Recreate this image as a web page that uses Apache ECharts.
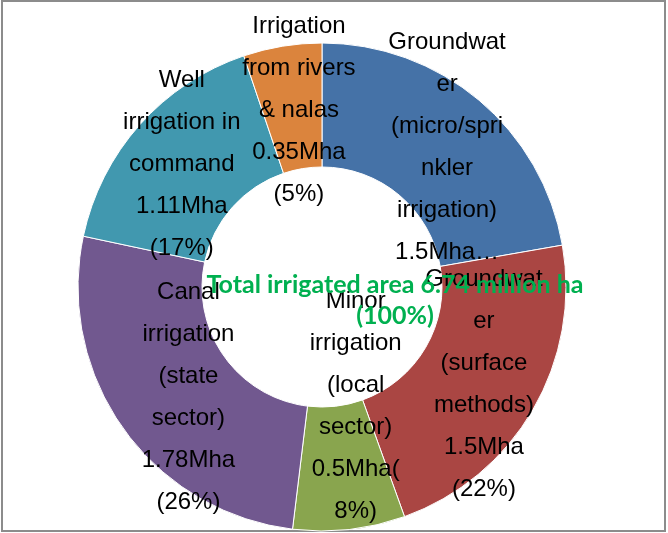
<!DOCTYPE html>
<html>
<head>
<meta charset="utf-8">
<script src="https://cdn.jsdelivr.net/npm/echarts@6/dist/echarts.min.js"></script>
<style>
html,body{margin:0;padding:0;background:#fff;}
#chart{width:668px;height:533px;}
</style>
</head>
<body>
<div id="chart"></div>
<script>
const categories = [
  'Groundwater (micro/sprinkler irrigation)',
  'Groundwater (surface methods)',
  'Minor irrigation (local sector)',
  'Canal irrigation (state sector)',
  'Well irrigation in command',
  'Irrigation from rivers & nalas'
];
const values = [1.5, 1.5, 0.5, 1.78, 1.11, 0.35];
const colors = ['#4572A7', '#AA4643', '#89A54E', '#71588F', '#4198AF', '#DB843D'];
const labelTexts = [
  'Groundwat\ner\n(micro/spri\nnkler\nirrigation)\n1.5Mha\u2026',
  'Groundwat\ner\n(surface\nmethods)\n1.5Mha\n(22%)',
  'Minor\nirrigation\n(local\nsector)\n0.5Mha(\n8%)',
  'Canal\nirrigation\n(state\nsector)\n1.78Mha\n(26%)',
  'Well\nirrigation in\ncommand\n1.11Mha\n(17%)',
  'Irrigation\nfrom rivers\n& nalas\n0.35Mha\n(5%)'
];
const centerTitle = 'Total irrigated area 6.74 million ha\n(100%)';

// label nudges (styling only)
const labelNudge = [[6, 2], [2, 4], [13, -64], [17, 3], [-2, 0], [7, 6]];

const chart = echarts.init(document.getElementById('chart'));
chart.setOption({
  animation: false,
  title: {
    text: centerTitle,
    left: 390,
    top: 264,
    textAlign: 'center',
    textStyle: {
      color: '#00B050',
      fontFamily: 'Lato',
      fontWeight: 'bold',
      fontSize: 25,
      lineHeight: 31,
      align: 'center'
    },
    z: 10
  },
  graphic: [
    {
      type: 'rect',
      shape: {x: 2, y: 1, width: 663, height: 530},
      style: {fill: 'none', stroke: '#8c8c8c', lineWidth: 2},
      silent: true
    },
    {
      type: 'group',
      z: 100,
      children: [
        {type: 'line', shape: {x1: 293, y1: 77, x2: 317, y2: 117}, style: {stroke: '#4A7EBB', lineWidth: 1.5}},
        {type: 'polyline', shape: {points: [[305, 109], [317, 117], [316, 103]]}, style: {stroke: '#4A7EBB', lineWidth: 1.5, fill: 'none'}}
      ]
    }
  ],
  series: [{
    type: 'pie',
    center: [322, 287],
    radius: [120, 244],
    startAngle: 90,
    clockwise: true,
    avoidLabelOverlap: false,
    labelLayout: {hideOverlap: false},
    itemStyle: {borderColor: '#ffffff', borderWidth: 1},
    label: {
      show: true,
      position: 'inside',
      color: '#000',
      fontFamily: 'Liberation Sans, Arial',
      fontSize: 24,
      lineHeight: 42,
      align: 'center'
    },
    labelLine: {show: false},
    emphasis: {disabled: true},
    data: categories.map((c, i) => ({
      name: c,
      value: values[i],
      itemStyle: {color: colors[i]},
      label: {formatter: labelTexts[i], offset: labelNudge[i]}
    }))
  }]
});
</script>
</body>
</html>
